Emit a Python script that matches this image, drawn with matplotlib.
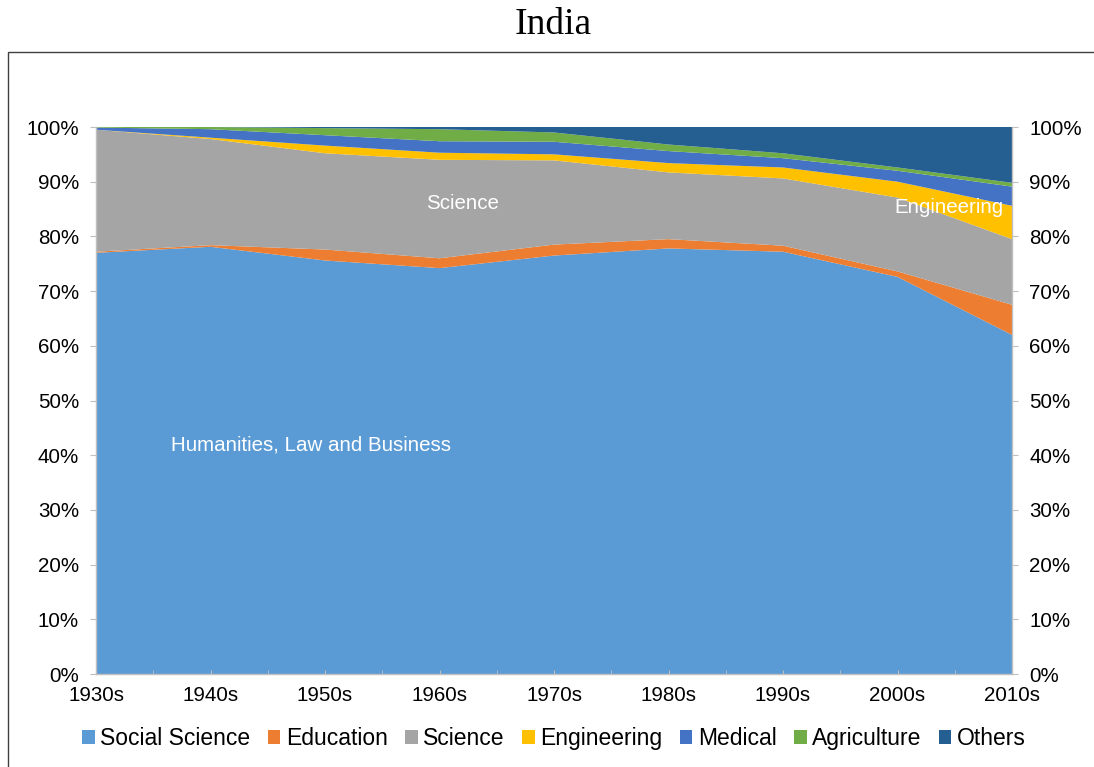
import numpy as np
import matplotlib.pyplot as plt
from matplotlib.patches import Rectangle
from matplotlib.ticker import FixedLocator, PercentFormatter

# decades and shares (%)
decades = ["1930s", "1940s", "1950s", "1960s", "1970s", "1980s", "1990s", "2000s", "2010s"]
social_science = [77.0, 78.1, 75.6, 74.2, 76.5, 77.8, 77.2, 72.6, 62.0]
education = [0.2, 0.3, 2.0, 1.8, 2.0, 1.7, 1.1, 1.0, 5.5]
science = [22.3, 19.4, 17.6, 18.0, 15.4, 12.2, 12.3, 13.5, 12.0]
engineering = [0.0, 0.25, 1.4, 1.3, 1.1, 1.7, 2.0, 2.9, 6.1]
medical = [0.4, 1.55, 1.9, 2.1, 2.3, 2.2, 1.7, 2.0, 3.5]
agriculture = [0.1, 0.4, 1.3, 2.2, 1.7, 1.2, 0.9, 0.6, 0.7]
others = [0.0, 0.0, 0.2, 0.4, 1.0, 3.2, 4.8, 7.4, 10.2]

labels = ["Social Science", "Education", "Science", "Engineering",
          "Medical", "Agriculture", "Others"]
colors = ["#5B9BD5", "#ED7D31", "#A5A5A5", "#FFC000",
          "#4472C4", "#70AD47", "#255E91"]

plt.rcParams['font.family'] = ['Liberation Sans', 'DejaVu Sans']

fig = plt.figure(figsize=(10.94, 7.67), dpi=100)
ax = fig.add_axes([96 / 1094, 93 / 767, 916 / 1094, 547 / 767])

x = np.arange(len(decades))
ax.stackplot(x, social_science, education, science, engineering,
             medical, agriculture, others, labels=labels, colors=colors,
             linewidth=0)

ax.set_xlim(0, len(decades) - 1)
ax.set_ylim(0, 100)

axis_col = "#BFBFBF"
ax.spines["top"].set_visible(False)
for side in ["left", "right", "bottom"]:
    ax.spines[side].set_color(axis_col)
    ax.spines[side].set_linewidth(1)
ax.spines["bottom"].set_zorder(5)

ax.set_xticks(x)
ax.set_xticklabels(decades, fontsize=14.8)
ax.xaxis.set_minor_locator(FixedLocator(x[:-1] + 0.5))
ax.tick_params(axis="x", which="both", direction="in", length=3,
               color=axis_col, pad=8.5)

ax.set_yticks(np.arange(0, 101, 10))
ax.yaxis.set_major_formatter(PercentFormatter(decimals=0))
ax.tick_params(axis="y", which="major", direction="out", length=4.3,
               color=axis_col, labelsize=14.8, pad=8,
               left=True, right=True, labelleft=True, labelright=True)

# labels inside the areas
ax.text(1.88, 41.9, "Humanities, Law and Business", color="white",
        fontsize=14.8, ha="center", va="center")
ax.text(3.2, 86.1, "Science", color="white", fontsize=14.8,
        ha="center", va="center")
ax.text(7.45, 85.2, "Engineering", color="white", fontsize=14.8,
        ha="center", va="center")

fig.text(0.506, 0.968, "India", fontsize=27, ha="center", va="center",
         family=["Liberation Serif", "DejaVu Serif"])

# chart area frame
fig.patches.append(Rectangle((8 / 1094, -0.05), 1.2, 1 - 52 / 767 + 0.05,
                             transform=fig.transFigure, fill=False,
                             edgecolor="#404040", linewidth=1))

ax.legend(loc="center", bbox_to_anchor=(0.5, -0.118), ncol=7,
          frameon=False, fontsize=16.5, handlelength=0.55, handleheight=0.55,
          handletextpad=0.25, columnspacing=0.75)

fig.savefig("out.png", dpi=100)
